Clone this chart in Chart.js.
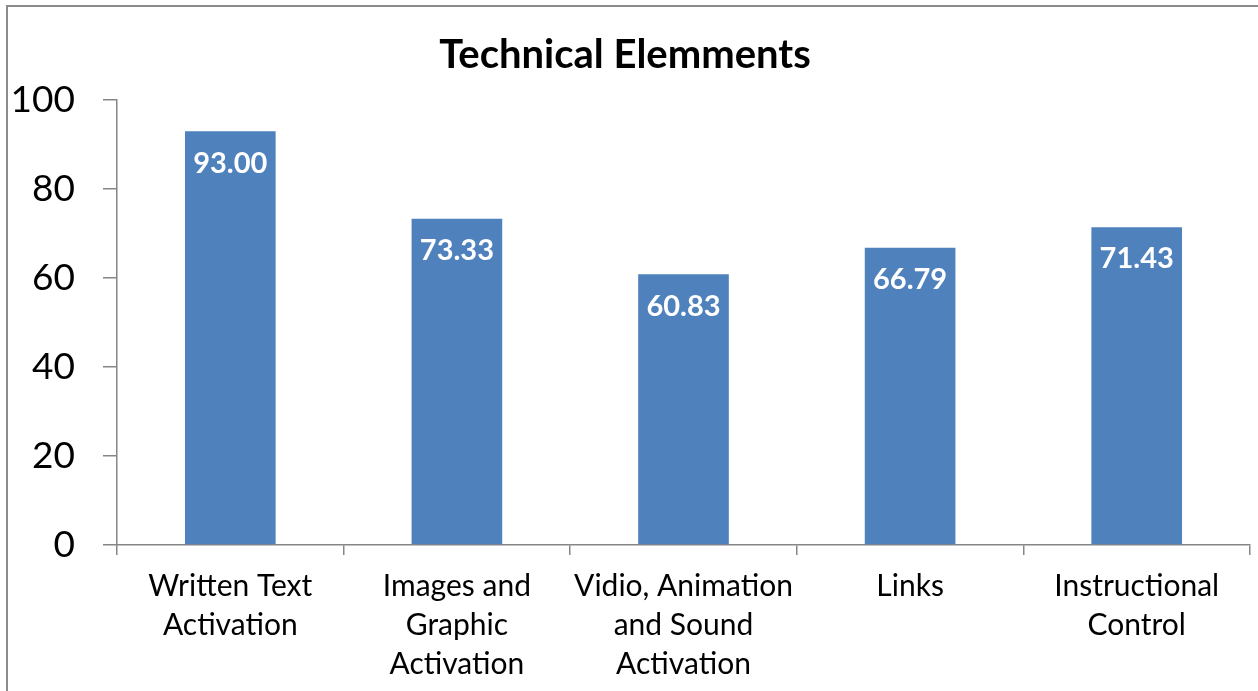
<!DOCTYPE html>
<html>
<head>
<meta charset="utf-8">
<script src="https://cdn.jsdelivr.net/npm/chart.js@4/dist/chart.umd.min.js"></script>
<style>
  html, body { margin: 0; padding: 0; background: #fff; }
  #wrap { width: 1258px; height: 691px; }
</style>
</head>
<body>
<div id="wrap"><canvas id="chart" width="1258" height="691"></canvas></div>
<script>
const categories = [
    ['Written Text', 'Activation'],
    ['Images and', 'Graphic', 'Activation'],
    ['Vidio, Animation', 'and Sound', 'Activation'],
    ['Links'],
    ['Instructional', 'Control']
];
const scores = [93.00, 73.33, 60.83, 66.79, 71.43];
const yTicks = [0, 20, 40, 60, 80, 100];

const fontName = 'Lato, "Open Sans", sans-serif';
const axisGray = '#868686';

// outer frame, only left and top edges are visible in the picture
const framePlugin = {
    id: 'frame',
    beforeDraw(chart) {
        const ctx = chart.ctx;
        ctx.save();
        ctx.strokeStyle = '#8c8c8c';
        ctx.lineWidth = 2;
        ctx.strokeRect(7, 6, 1300, 720);
        ctx.restore();
    }
};

// white value labels just inside the top of each bar
const valueLabels = {
    id: 'valueLabels',
    afterDatasetsDraw(chart) {
        const ctx = chart.ctx;
        const meta = chart.getDatasetMeta(0);
        ctx.save();
        ctx.fillStyle = '#ffffff';
        ctx.font = 'bold 29px ' + fontName;
        ctx.textAlign = 'center';
        ctx.textBaseline = 'middle';
        meta.data.forEach((bar, i) => {
            ctx.fillText(scores[i].toFixed(2), bar.x, bar.y + 32);
        });
        ctx.restore();
    }
};

new Chart(document.getElementById('chart').getContext('2d'), {
    type: 'bar',
    data: {
        labels: categories,
        datasets: [{
            data: scores,
            backgroundColor: '#4F81BD',
            borderWidth: 0,
            categoryPercentage: 1,
            barPercentage: 0.4
        }]
    },
    options: {
        responsive: false,
        animation: false,
        devicePixelRatio: 1,
        layout: { padding: { left: 0, right: 8, top: 0, bottom: 0 } },
        plugins: {
            legend: { display: false },
            tooltip: { enabled: false },
            title: {
                display: true,
                text: 'Technical Elemments',
                color: '#000',
                font: { family: fontName, size: 40, weight: 'bold', lineHeight: 1.2 },
                padding: { top: 31, bottom: 21 }
            }
        },
        scales: {
            x: {
                grid: {
                    offset: true,
                    drawOnChartArea: false,
                    drawTicks: true,
                    tickLength: 10,
                    color: axisGray,
                    lineWidth: 1.5
                },
                border: { display: true, color: axisGray, width: 1.5 },
                ticks: {
                    color: '#000',
                    maxRotation: 0,
                    autoSkip: false,
                    padding: 12,
                    font: { family: fontName, size: 30, lineHeight: 1.3 }
                },
                afterFit(scale) { scale.height = 146; }
            },
            y: {
                min: 0,
                max: 100,
                afterBuildTicks(scale) { scale.ticks = yTicks.map(v => ({ value: v })); },
                grid: {
                    drawOnChartArea: false,
                    drawTicks: true,
                    tickLength: 14,
                    color: axisGray,
                    lineWidth: 1.5
                },
                border: { display: true, color: axisGray, width: 1.5 },
                ticks: {
                    color: '#000',
                    padding: 28,
                    font: { family: fontName, size: 37 }
                },
                afterFit(scale) { scale.width = 117; }
            }
        }
    },
    plugins: [framePlugin, valueLabels]
});
</script>
</body>
</html>
